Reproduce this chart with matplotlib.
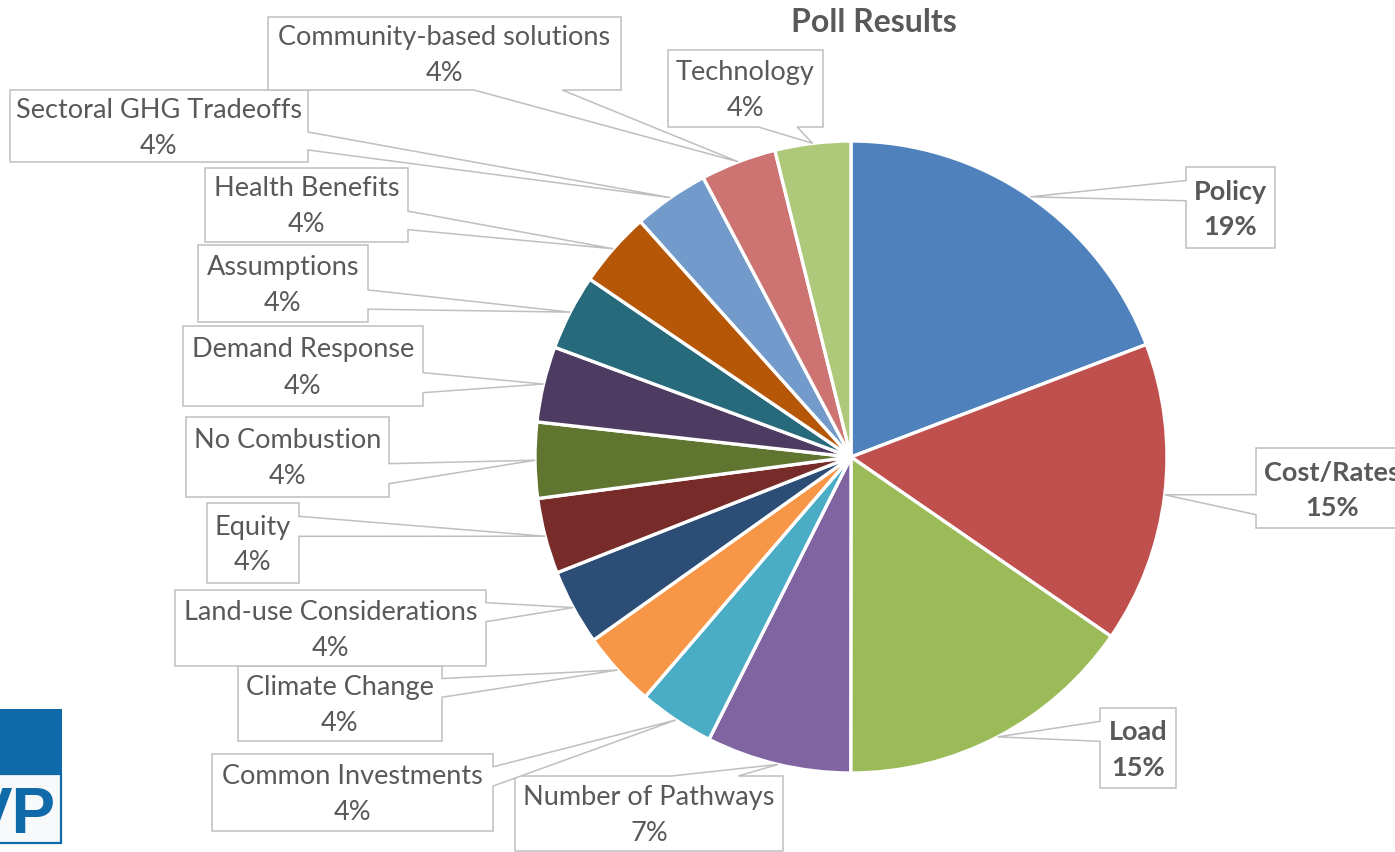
import numpy as np
import matplotlib
matplotlib.use('Agg')
import matplotlib.pyplot as plt
from matplotlib.patches import Polygon, Rectangle

plt.rcParams['font.family'] = ['Lato', 'DejaVu Sans']

W, H = 1395, 852

categories = ['Policy', 'Cost/Rates', 'Load', 'Number of Pathways',
              'Common Investments', 'Climate Change', 'Land-use Considerations',
              'Equity', 'No Combustion', 'Demand Response', 'Assumptions',
              'Health Benefits', 'Sectoral GHG Tradeoffs',
              'Community-based solutions', 'Technology']
shares = [19.2, 15.4, 15.4, 7.4,
          3.87, 3.87, 3.87,
          3.87, 3.87, 3.87, 3.87,
          3.87, 3.87,
          3.87, 3.87]
colors = ['#4F81BD', '#C0504D', '#9BBB59', '#8064A2',
          '#4BACC6', '#F79646', '#2C4D75',
          '#772C2A', '#5F7530', '#4D3B62', '#276A7C',
          '#B65708', '#729ACA',
          '#CD7371', '#AFC97A']
bold_labels = ['Policy', 'Cost/Rates', 'Load']

# callout boxes in pixels from the top-left corner: left, top, right, bottom
label_boxes = [(1186, 167, 1275, 248), (1256, 448, 1410, 528), (1100, 708, 1176, 788),
               (515, 776, 783, 851), (212, 754, 493, 831), (238, 666, 442, 741),
               (175, 590, 486, 666), (207, 503, 299, 583), (186, 417, 389, 497),
               (183, 326, 423, 406), (198, 245, 368, 322), (205, 168, 408, 242),
               (10, 90, 308, 162), (268, 17, 621, 90), (668, 50, 823, 127)]

cx, cy, radius = 851, 457, 316
text_grey = '#595959'
line_grey = '#BFBFBF'


def callout(box, tip):
    # rectangle with a wedge tail pointing at tip (pixel coords, y down)
    l, t, r, b = box
    w, h = r - l, b - t
    mx, my = (l + r) / 2, (t + b) / 2
    dx, dy = (tip[0] - mx) / w, (tip[1] - my) / h
    fx = (7, 10) if dx > 0 else (2, 5)
    fy = (7, 10) if dy > 0 else (2, 5)
    x1, x2 = l + w * fx[0] / 12, l + w * fx[1] / 12
    y1, y2 = t + h * fy[0] / 12, t + h * fy[1] / 12
    if abs(dx) > abs(dy):
        side = 'right' if dx > 0 else 'left'
    else:
        side = 'bottom' if dy > 0 else 'top'
    pts = [(l, t)]
    if side == 'top':
        pts += [(x1, t), tip, (x2, t)]
    pts.append((r, t))
    if side == 'right':
        pts += [(r, y1), tip, (r, y2)]
    pts.append((r, b))
    if side == 'bottom':
        pts += [(x2, b), tip, (x1, b)]
    pts.append((l, b))
    if side == 'left':
        pts += [(l, y2), tip, (l, y1)]
    return [(x, H - y) for x, y in pts]


fig = plt.figure(figsize=(W / 100, H / 100), dpi=100)
ax = fig.add_axes([0, 0, 1, 1])

wedges, _ = ax.pie(shares, colors=colors, startangle=90, counterclock=False,
                   center=(cx, H - cy), radius=radius,
                   wedgeprops=dict(edgecolor='white', linewidth=2.4))

for wedge, name, val, box in zip(wedges, categories, shares, label_boxes):
    mid = np.deg2rad((wedge.theta1 + wedge.theta2) / 2)
    tip = (cx + radius * np.cos(mid), cy - radius * np.sin(mid))
    ax.add_patch(Polygon(callout(box, tip), closed=True, facecolor='white',
                         edgecolor=line_grey, linewidth=1.1, zorder=3))
    weight = 'bold' if name in bold_labels else 'normal'
    # the Cost/Rates box runs past the right edge, keep its text where it was
    tx = (box[0] + box[2]) / 2 if box[2] <= W else 1332
    ax.text(tx, H - (box[1] + box[3]) / 2 - 2, f'{name}\n{val:.0f}%',
            ha='center', va='center', multialignment='center',
            fontsize=19.5, color=text_grey, fontweight=weight,
            linespacing=1.55, zorder=4)

ax.text(874, H - 22, 'Poll Results', ha='center', va='center',
        fontsize=23, fontweight='bold', color=text_grey)

# logo in the lower left corner
logo_blue = '#1069A8'
ax.add_patch(Rectangle((-5, H - 774), 67, 65, facecolor=logo_blue,
                       edgecolor='none'))
ax.add_patch(Rectangle((-5, H - 843), 66, 69, facecolor='#F7F9FB',
                       edgecolor=logo_blue, linewidth=1.6))
ax.text(56, H - 833, 'VP', ha='right', va='baseline', fontsize=47,
        fontweight='bold', color=logo_blue, family='Liberation Sans')

ax.set_xlim(0, W)
ax.set_ylim(0, H)
ax.set_aspect('equal')
ax.axis('off')

fig.savefig('out.png', dpi=100, facecolor='white')
